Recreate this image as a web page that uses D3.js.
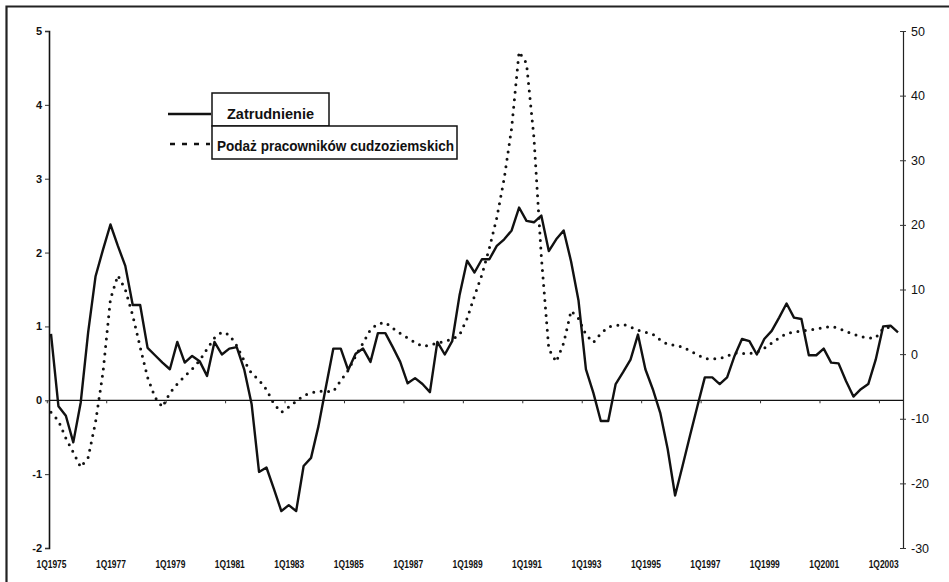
<!DOCTYPE html>
<html><head><meta charset="utf-8">
<script src="https://cdn.jsdelivr.net/npm/d3@7"></script>
<style>html,body{margin:0;padding:0;background:#fff;} svg{display:block;}</style>
</head><body><svg id="chart" width="949" height="582"></svg>
<script>
// Categories: quarters 1Q1975 .. 3Q2003
const quarters = [];
for (let y = 1975; y <= 2003; y++) for (let q = 1; q <= 4; q++) quarters.push(q + "Q" + y);
quarters.length = 115;

const tickLabels = ["1Q1975","1Q1977","1Q1979","1Q1981","1Q1983","1Q1985","1Q1987","1Q1989","1Q1991","1Q1993","1Q1995","1Q1997","1Q1999","1Q2001","1Q2003"];
const leftTicks = [-2,-1,0,1,2,3,4,5];
const rightTicks = [-30,-20,-10,0,10,20,30,40,50];
const seriesNames = ["Zatrudnienie","Podaż pracowników cudzoziemskich"];

// Zatrudnienie (left axis)
const employment = [
 0.90,-0.08,-0.21,-0.57,-0.03,0.92,1.68,2.04,2.38,2.09,
 1.82,1.29,1.29,0.71,0.61,0.51,0.42,0.79,0.51,0.60,
 0.53,0.33,0.79,0.62,0.70,0.72,0.42,-0.05,-0.97,-0.91,
 -1.20,-1.50,-1.42,-1.50,-0.89,-0.78,-0.35,0.18,0.70,0.70,
 0.41,0.63,0.70,0.52,0.91,0.91,0.72,0.52,0.23,0.30,
 0.22,0.11,0.79,0.62,0.80,1.43,1.89,1.73,1.91,1.91,
 2.09,2.18,2.30,2.61,2.43,2.41,2.50,2.02,2.18,2.30,
 1.88,1.35,0.42,0.10,-0.28,-0.28,0.22,0.38,0.55,0.89,
 0.42,0.15,-0.17,-0.66,-1.29,-0.89,-0.48,-0.08,0.31,0.31,
 0.22,0.31,0.60,0.83,0.80,0.62,0.83,0.94,1.12,1.31,
 1.12,1.10,0.61,0.61,0.70,0.51,0.50,0.26,0.05,0.15,
 0.22,0.55,1.00,1.01,0.92
];
// Podaż pracowników cudzoziemskich (right axis)
const foreignSupply = [
 -9.0,-10.3,-13.0,-15.2,-17.5,-16.0,-10.5,-2.8,8.5,12.2,
 10.0,6.0,1.1,-3.6,-6.7,-8.2,-6.0,-4.6,-3.4,-2.3,
 -1.0,0.8,2.5,3.4,3.0,1.3,-1.0,-3.0,-4.0,-5.5,
 -7.7,-9.0,-8.2,-7.3,-6.4,-6.0,-5.7,-5.8,-5.8,-4.1,
 -2.5,-0.3,1.7,3.8,4.7,4.9,4.0,3.2,2.5,1.8,
 1.2,1.4,1.7,2.0,2.3,3.0,5.5,9.0,12.3,16.4,
 21.1,27.2,35.0,46.8,45.0,33.5,15.0,0.8,-1.2,1.7,
 6.7,5.5,3.0,1.8,3.2,4.2,4.4,4.6,4.2,3.7,
 3.4,3.1,2.2,1.5,1.4,1.1,0.5,-0.1,-0.7,-0.7,
 -0.7,-0.3,0.2,0.1,0.1,0.3,0.9,1.7,2.5,3.2,
 3.4,3.6,3.7,3.9,4.1,4.3,4.0,3.5,3.1,2.7,
 2.5,2.5,4.0,4.2
];

const svg = d3.select("#chart");
const plotL = 49, plotR = 903, plotT = 31, plotB = 548;
const x = d3.scalePoint().domain(quarters).range([51, 898]);
const yL = d3.scaleLinear().domain([-2, 5]).range([plotB, plotT]);
const yR = d3.scaleLinear().domain([-30, 50]).range([plotB, plotT]);
const narrow = "'Liberation Sans Narrow','Arial Narrow','Liberation Sans',Arial,sans-serif";

svg.append("rect").attr("width", 949).attr("height", 582).attr("fill", "#fff");

// outer frame
svg.append("path").attr("d", "M6.5,600V6.5H960").attr("fill", "none").attr("stroke", "#222").attr("stroke-width", 2.2);

// left axis
const gL = svg.append("g").attr("transform", `translate(${plotL},0)`)
  .call(d3.axisLeft(yL).tickValues(leftTicks).tickSize(4).tickPadding(3).tickFormat(d => String(d)));
gL.select(".domain").attr("stroke", "#111").attr("stroke-width", 1.6);
gL.selectAll(".tick line").attr("stroke", "#333");
gL.selectAll("text").attr("font-family", narrow).attr("font-weight", "bold").attr("font-size", 11).attr("fill", "#111");

// right axis
const gR = svg.append("g").attr("transform", `translate(${plotR},0)`)
  .call(d3.axisRight(yR).tickValues(rightTicks).tickSize(3).tickPadding(5).tickFormat(d => String(d)));
gR.select(".domain").attr("stroke", "#222").attr("stroke-width", 1.2);
gR.selectAll(".tick line").attr("x1", -3).attr("stroke", "#333");
gR.selectAll("text").attr("font-family", "'Liberation Sans',Arial,sans-serif").attr("font-size", 12.5).attr("fill", "#111");

// zero line with category ticks
const y0 = yL(0);
svg.append("line").attr("x1", plotL).attr("x2", plotR).attr("y1", y0).attr("y2", y0)
  .attr("stroke", "#111").attr("stroke-width", 1.3);
svg.append("g").selectAll("line").data(tickLabels).join("line")
  .attr("x1", d => x(d) - x.step() / 2).attr("x2", d => x(d) - x.step() / 2)
  .attr("y1", y0).attr("y2", y0 + 3).attr("stroke", "#333");

// bottom category labels
const gX = svg.append("g").attr("transform", `translate(0,${plotB})`)
  .call(d3.axisBottom(x).tickValues(tickLabels).tickSize(0).tickPadding(13));
gX.select(".domain").remove();
gX.selectAll("text").attr("font-family", narrow).attr("font-weight", "bold").attr("font-size", 10.5)
  .attr("fill", "#111").attr("textLength", 30).attr("lengthAdjust", "spacingAndGlyphs");

// series
const lineL = d3.line().x((d, i) => x(quarters[i])).y(d => yL(d));
const lineR = d3.line().x((d, i) => x(quarters[i])).y(d => yR(d));
svg.append("path").datum(foreignSupply).attr("d", lineR).attr("fill", "none")
  .attr("stroke", "#111").attr("stroke-width", 3).attr("stroke-linecap", "round")
  .attr("stroke-dasharray", "0,7.5");
svg.append("path").datum(employment).attr("d", lineL).attr("fill", "none")
  .attr("stroke", "#111").attr("stroke-width", 2.4).attr("stroke-linejoin", "round");

// legend
const lg = svg.append("g");
lg.append("rect").attr("x", 212).attr("y", 93).attr("width", 117).attr("height", 33)
  .attr("fill", "#fff").attr("stroke", "#111").attr("stroke-width", 1.5);
lg.append("rect").attr("x", 212).attr("y", 126).attr("width", 245).attr("height", 33)
  .attr("fill", "#fff").attr("stroke", "#111").attr("stroke-width", 1.5);
lg.append("line").attr("x1", 168).attr("x2", 211).attr("y1", 114).attr("y2", 114)
  .attr("stroke", "#111").attr("stroke-width", 2.4);
lg.append("line").attr("x1", 170).attr("x2", 210).attr("y1", 144).attr("y2", 144)
  .attr("stroke", "#111").attr("stroke-width", 2.4).attr("stroke-dasharray", "5,7");
lg.append("text").attr("x", 227).attr("y", 119).text(seriesNames[0])
  .attr("font-family", narrow).attr("font-weight", "bold").attr("font-size", 15).attr("fill", "#111")
  .attr("textLength", 87).attr("lengthAdjust", "spacingAndGlyphs");
lg.append("text").attr("x", 217).attr("y", 151).text(seriesNames[1])
  .attr("font-family", narrow).attr("font-weight", "bold").attr("font-size", 15).attr("fill", "#111")
  .attr("textLength", 237).attr("lengthAdjust", "spacingAndGlyphs");
</script></body></html>
